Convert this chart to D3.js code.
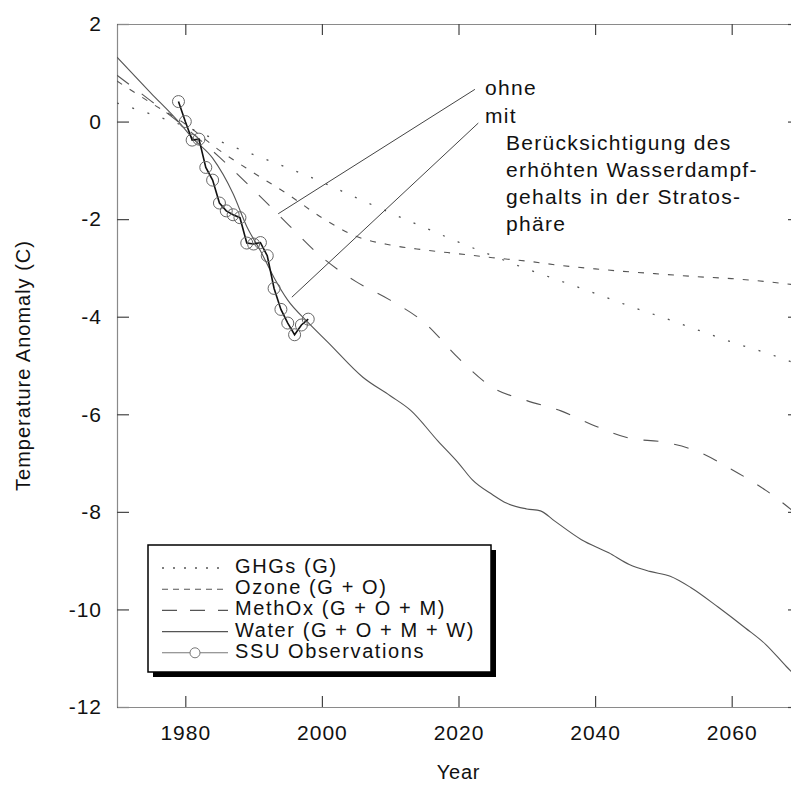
<!DOCTYPE html>
<html>
<head>
<meta charset="utf-8">
<script src="https://cdn.jsdelivr.net/npm/d3@7"></script>
<style>
  html, body { margin: 0; padding: 0; background: #fff; }
  svg { display: block; font-family: "Liberation Sans", Arial, Helvetica, sans-serif; }
</style>
</head>
<body>
<svg id="chart" width="791" height="785"></svg>
<script>
// Model runs sampled every five years
const gridYears = [1970, 1975, 1980, 1985, 1990, 1995, 2000, 2005, 2010, 2015, 2020,
                   2025, 2030, 2035, 2040, 2045, 2050, 2055, 2060, 2065, 2070];
const ghgValues = [0.38, 0.15, -0.10, -0.40, -0.68, -0.95, -1.24, -1.56, -1.87, -2.17, -2.47,
                   -2.75, -3.02, -3.27, -3.52, -3.78, -4.02, -4.27, -4.52, -4.74, -4.99];
const ozoneValues = [0.83, 0.38, -0.05, -0.59, -1.05, -1.49, -1.97, -2.35, -2.53, -2.63, -2.71,
                     -2.79, -2.86, -2.95, -3.02, -3.08, -3.13, -3.18, -3.22, -3.28, -3.36];
const methoxValues = [0.95, 0.42, -0.12, -0.73, -1.40, -2.10, -2.78, -3.28, -3.66, -4.12, -4.85,
                      -5.45, -5.72, -5.93, -6.24, -6.49, -6.57, -6.76, -7.13, -7.56, -8.10];

// Full run including stratospheric water vapour
const waterYears = [1970, 1975, 1979, 1981, 1984, 1987, 1989, 1991, 1993, 1995, 1998, 2001,
                    2006, 2010, 2013, 2017, 2020, 2022, 2025, 2027, 2030, 2032, 2034, 2038,
                    2042, 2045, 2048, 2051, 2054, 2058, 2062, 2065, 2068, 2070];
const waterValues = [1.32, 0.58, 0.00, -0.33, -0.75, -1.48, -2.15, -2.65, -3.20, -3.66, -4.12, -4.54,
                     -5.24, -5.62, -5.92, -6.55, -7.00, -7.34, -7.65, -7.82, -7.94, -7.98, -8.18, -8.57,
                     -8.84, -9.08, -9.22, -9.32, -9.55, -9.95, -10.38, -10.72, -11.17, -11.45];

// SSU satellite observations
const ssuYears = [1979, 1980, 1981, 1982, 1983, 1984, 1985, 1986, 1987, 1988,
                  1989, 1990, 1991, 1992, 1993, 1994, 1995, 1996, 1997, 1998];
const ssuValues = [0.41, 0.00, -0.38, -0.36, -0.94, -1.20, -1.67, -1.83, -1.91, -1.97,
                   -2.49, -2.51, -2.48, -2.75, -3.42, -3.85, -4.13, -4.37, -4.17, -4.05];

const xTicks = [1980, 2000, 2020, 2040, 2060];
const yTicks = [2, 0, -2, -4, -6, -8, -10, -12];

const legendLabels = ["GHGs (G)", "Ozone (G + O)", "MethOx (G + O + M)",
                      "Water (G + O + M + W)", "SSU Observations"];

// Pointer annotations (year, value)
const pointerLabels = ["ohne", "mit"];
const pointerFrom = [[2022.4, 0.66], [2022.9, -0.03]];
const pointerTo = [[1993.6, -1.89], [1995.6, -3.60]];
const noteLines = ["Berücksichtigung des", "erhöhten Wasserdampf-",
                   "gehalts in der Stratos-", "phäre"];

const svg = d3.select("#chart");
const x = d3.scaleLinear().domain([1970, 2070]).range([117, 800]);
const y = d3.scaleLinear().domain([-12, 2]).range([707, 24]);
const [x0, x1] = x.range();
const [y0, y1] = y.range();

svg.append("defs").append("clipPath").attr("id", "plotClip")
  .append("rect").attr("x", x0).attr("y", y1).attr("width", x1 - x0).attr("height", y0 - y1);

function styleAxis(g, fontSize) {
  g.attr("font-family", null).attr("font-size", null);
  g.select(".domain").attr("stroke", "#8a8a8a").attr("stroke-width", 1.2);
  g.selectAll(".tick line").attr("stroke", "#444").attr("stroke-width", 1.2);
  g.selectAll(".tick text").attr("fill", "#111")
    .style("font-size", fontSize + "px").style("letter-spacing", "1px");
}

// Frame with inward ticks on all four sides
svg.append("g").attr("transform", `translate(${x0},0)`)
  .call(d3.axisLeft(y).tickValues(yTicks).tickSizeInner(-12).tickSizeOuter(0)
    .tickPadding(15).tickFormat(d => String(d)))
  .call(g => styleAxis(g, 21));
svg.append("g").attr("transform", `translate(0,${y0})`)
  .call(d3.axisBottom(x).tickValues(xTicks).tickSizeInner(-11).tickSizeOuter(0)
    .tickPadding(18).tickFormat(d => String(d)))
  .call(g => styleAxis(g, 21));
svg.append("g").attr("transform", `translate(0,${y1})`)
  .call(d3.axisTop(x).tickValues(xTicks).tickSizeInner(-11).tickSizeOuter(0).tickFormat(""))
  .call(g => styleAxis(g, 21));
svg.append("g").attr("transform", `translate(${x1},0)`)
  .call(d3.axisRight(y).tickValues(yTicks).tickSizeInner(-12).tickSizeOuter(0).tickFormat(""))
  .call(g => styleAxis(g, 21));

// Axis titles
svg.append("text").attr("x", (x0 + x1) / 2).attr("y", 779)
  .attr("text-anchor", "middle").style("font-size", "20px").style("letter-spacing", "0.8px")
  .attr("fill", "#111").text("Year");
svg.append("text")
  .attr("transform", `translate(30,${(y0 + y1) / 2}) rotate(-90)`)
  .attr("text-anchor", "middle").style("font-size", "20px").style("letter-spacing", "1px")
  .attr("fill", "#111").text("Temperature Anomaly (C)");

// Model curves
const line = d3.line().x(d => x(d[0])).y(d => y(d[1])).curve(d3.curveMonotoneX);
const series = [
  { years: gridYears, values: ghgValues, dash: "2,14", legendDash: "2,9", width: 1.3 },
  { years: gridYears, values: ozoneValues, dash: "6,9", legendDash: "6,5", width: 1.1 },
  { years: gridYears, values: methoxValues, dash: "15,16", legendDash: "15,13", width: 1.1 },
  { years: waterYears, values: waterValues, dash: null, legendDash: null, width: 1.1 }
];
const curves = svg.append("g").attr("clip-path", "url(#plotClip)");
series.forEach(s => {
  curves.append("path")
    .datum(s.years.map((yr, i) => [yr, s.values[i]]))
    .attr("d", line)
    .attr("fill", "none")
    .attr("stroke", "#555")
    .attr("stroke-width", s.width)
    .attr("stroke-dasharray", s.dash);
});

// Observations
const ssu = ssuYears.map((yr, i) => [yr, ssuValues[i]]);
curves.append("path").datum(ssu)
  .attr("d", d3.line().x(d => x(d[0])).y(d => y(d[1])))
  .attr("fill", "none").attr("stroke", "#111").attr("stroke-width", 1.6);
curves.selectAll("circle.ssu").data(ssu).join("circle")
  .attr("class", "ssu")
  .attr("cx", d => x(d[0])).attr("cy", d => y(d[1])).attr("r", 6)
  .attr("fill", "none").attr("stroke", "#666").attr("stroke-width", 1);

// Pointer annotations
const notes = svg.append("g");
pointerLabels.forEach((lab, i) => {
  notes.append("line")
    .attr("x1", x(pointerFrom[i][0])).attr("y1", y(pointerFrom[i][1]))
    .attr("x2", x(pointerTo[i][0])).attr("y2", y(pointerTo[i][1]))
    .attr("stroke", "#444").attr("stroke-width", 1);
  notes.append("text")
    .attr("x", 485).attr("y", 95 + i * 27.7)
    .style("font-size", "21px").style("letter-spacing", "1.3px").attr("fill", "#111")
    .text(lab);
});
noteLines.forEach((t, i) => {
  notes.append("text")
    .attr("x", 506).attr("y", 150 + i * 26.9)
    .style("font-size", "21px").style("letter-spacing", "1.3px").attr("fill", "#111")
    .text(t);
});

// Legend with drop shadow
const lg = svg.append("g").attr("transform", "translate(148,545)");
const lgW = 343, lgH = 127;
lg.append("rect").attr("x", 5).attr("y", 5).attr("width", lgW).attr("height", lgH).attr("fill", "#000");
lg.append("rect").attr("x", 0).attr("y", 0).attr("width", lgW).attr("height", lgH)
  .attr("fill", "#fff").attr("stroke", "#000").attr("stroke-width", 1.5);
legendLabels.forEach((lab, i) => {
  const rowY = 23 + i * 21.2;
  const sx0 = 14, sx1 = 80;
  if (i < 4) {
    lg.append("line").attr("x1", sx0).attr("x2", sx1).attr("y1", rowY).attr("y2", rowY)
      .attr("stroke", "#555").attr("stroke-width", series[i].width)
      .attr("stroke-dasharray", series[i].legendDash);
  } else {
    lg.append("line").attr("x1", sx0).attr("x2", sx1).attr("y1", rowY).attr("y2", rowY)
      .attr("stroke", "#777").attr("stroke-width", 1.1);
    lg.append("circle").attr("cx", (sx0 + sx1) / 2).attr("cy", rowY).attr("r", 5)
      .attr("fill", "#fff").attr("stroke", "#777").attr("stroke-width", 1);
  }
  lg.append("text").attr("x", 87).attr("y", rowY + 5)
    .style("font-size", "20px").style("letter-spacing", "1.6px").attr("fill", "#111")
    .text(lab);
});
</script>
</body>
</html>
